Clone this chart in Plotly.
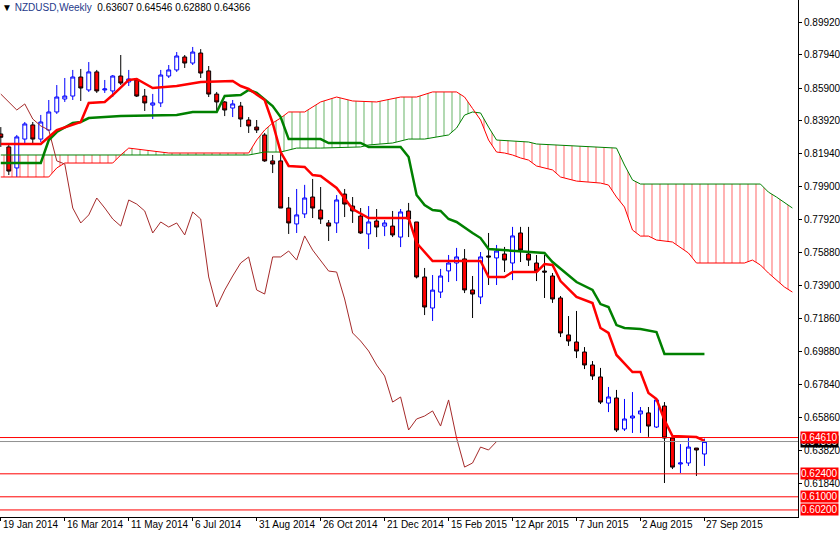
import plotly.graph_objects as go

# weekly NZDUSD candles, bar 0 = 19 Jan 2014
opens = [.8310, .8231, .8103, .8279, .8365, .8279, .8334, .8444, .8523, .8541,
         .8657, .8578, .8688, .8578, .8572, .8663, .8627, .8639, .8541, .8486,
         .8499, .8663, .8700, .8779, .8742, .8803, .8694, .8553, .8505, .8468,
         .8480, .8395, .8352, .8304, .8146, .8146, .7859, .7762, .7823, .7926,
         .7847, .7768, .7768, .7944, .7871, .7810, .7701, .7780, .7749, .7749,
         .7682, .7841, .7774, .7439, .7250, .7347, .7476, .7524, .7549, .7360,
         .7317, .7567, .7555, .7579, .7524, .7707, .7579, .7524, .7475, .7445,
         .7311, .7086, .7043, .6982, .6903, .6830, .6671, .6702, .6513, .6580,
         .6605, .6611, .6525, .6653, .6458, .6300, .6306, .6397, .63607]
highs = [.8352, .8255, .8304, .8383, .8383, .8426, .8517, .8608, .8651, .8700,
         .8706, .8748, .8700, .8639, .8669, .8791, .8700, .8651, .8584, .8554,
         .8700, .8730, .8809, .8791, .8840, .8827, .8724, .8566, .8511, .8517,
         .8505, .8413, .8395, .8316, .8182, .8195, .7926, .7975, .8000, .8036,
         .7987, .7786, .7938, .7975, .7926, .7859, .7871, .7853, .7786, .7841,
         .7853, .7890, .7774, .7494, .7451, .7488, .7573, .7616, .7609, .7445,
         .7591, .7707, .7634, .7622, .7744, .7744, .7744, .7573, .7573, .7463,
         .7323, .7201, .7232, .7012, .6927, .6885, .6769, .6751, .6696, .6738,
         .6647, .6647, .6702, .6677, .6476, .6421, .6464, .6397, .64546]
lows = [.8231, .8060, .8048, .8255, .8255, .8261, .8328, .8432, .8505, .8517,
        .8511, .8566, .8560, .8560, .8535, .8608, .8602, .8535, .8450, .8401,
        .8474, .8651, .8688, .8712, .8730, .8651, .8535, .8444, .8419, .8413,
        .8352, .8316, .8316, .8140, .8072, .7859, .7701, .7707, .7798, .7798,
        .7762, .7658, .7707, .7804, .7768, .7701, .7609, .7682, .7688, .7682,
        .7621, .7682, .7430, .7207, .7171, .7311, .7408, .7414, .7341, .7189,
        .7274, .7390, .7390, .7469, .7420, .7530, .7506, .7414, .7311, .7281,
        .7073, .7019, .6945, .6878, .6812, .6665, .6616, .6495, .6501, .6489,
        .6489, .6465, .6519, .6184, .6269, .6245, .6288, .6227, .62880]
closes = [.8290, .8084, .8292, .8371, .8279, .8383, .8444, .8535, .8541, .8657,
          .8590, .8688, .8572, .8584, .8663, .8620, .8645, .8541, .8499, .8499,
          .8669, .8700, .8785, .8742, .8809, .8681, .8553, .8505, .8456, .8493,
          .8401, .8359, .8334, .8146, .8127, .7859, .7768, .7817, .7920, .7859,
          .7792, .7749, .7908, .7883, .7841, .7707, .7774, .7743, .7768, .7695,
          .7835, .7792, .7439, .7256, .7359, .7445, .7524, .7561, .7360, .7335,
          .7561, .7561, .7597, .7542, .7689, .7603, .7542, .7475, .7469, .7305,
          .7098, .7049, .6988, .6903, .6836, .6677, .6708, .6507, .6574, .6592,
          .6623, .6531, .6690, .6458, .6281, .6306, .6403, .6385, .64366]

# Ichimoku lines (bar index, price)
tenkan_x = [0, 5, 7, 10, 11, 13, 14, 16, 17, 19, 22, 24, 25, 29, 30, 31, 33, 34, 35, 36,
            38, 39, 40, 42, 43, 44, 46, 51, 52, 54, 60, 61, 63, 64, 67, 68, 69, 70, 72, 74,
            75, 76, 77, 78, 79, 80, 81, 82, 83, 84, 87, 88]
tenkan_y = [.8249, .8249, .8334, .8383, .8499, .8505, .8547, .8639, .8645, .8590, .8602, .8620,
            .8627, .8633, .8602, .8584, .8517, .8377, .8200, .8115, .8109, .8060, .8054, .7981,
            .7920, .7853, .7798, .7798, .7646, .7536, .7536, .7439, .7439, .7469, .7469, .7518,
            .7512, .7414, .7317, .7280, .7128, .7098, .6964, .6915, .6860, .6860, .6732, .6696,
            .6568, .6470, .6464, .6440]
kijun_x = [0, 5, 6, 7, 9, 10, 11, 14, 15, 22, 24, 27, 28, 30, 31, 32, 34, 35, 36, 40, 41, 45,
           46, 50, 51, 52, 53, 54, 55, 56, 57, 59, 60, 61, 68, 69, 72, 74, 75, 76, 77, 78, 80,
           82, 83, 88]
kijun_y = [.8133, .8133, .8273, .8322, .8377, .8383, .8407, .8413, .8419, .8425, .8444, .8444,
           .8541, .8547, .8578, .8560, .8480, .8413, .8279, .8279, .8255, .8255, .8231, .8231,
           .8170, .7938, .7877, .7847, .7841, .7792, .7774, .7707, .7676, .7609, .7585, .7530,
           .7408, .7360, .7274, .7256, .7146, .7128, .7122, .7103, .6970, .6970]
span_a_x = [0, 15, 31, 33, 35, 37, 40, 45, 46, 49, 51, 53, 56, 57, 58, 59, 60, 61, 62, 66, 67,
            77, 78, 79, 80, 95, 96, 97, 99]
span_a_y = [.8182, .8182, .8182, .8200, .8200, .8224, .8224, .8231, .8243, .8255, .8279, .8279,
            .8304, .8346, .8425, .8444, .8438, .8352, .8273, .8261, .8249, .8224, .8121, .8030,
            .8005, .8005, .7956, .7926, .7859]
span_b_x = [0, 6, 7, 8, 14, 15, 16, 18, 21, 31, 32, 33, 34, 35, 36, 38, 40, 42, 44, 47, 50, 52,
            54, 57, 58, 59, 60, 61, 62, 63, 64, 65, 66, 67, 69, 70, 72, 75, 76, 77, 78, 79, 80,
            81, 82, 84, 85, 86, 87, 93, 94, 95, 96, 98, 99]
span_b_y = [.8048, .8048, .8103, .8133, .8133, .8182, .8224, .8212, .8194, .8194, .8273, .8334,
            .8377, .8407, .8444, .8444, .8505, .8535, .8511, .8505, .8535, .8535, .8566, .8566,
            .8535, .8465, .8395, .8273, .8200, .8194, .8182, .8164, .8151, .8115, .8091, .8048,
            .8023, .8011, .7999, .7926, .7865, .7725, .7688, .7688, .7664, .7652, .7621, .7585,
            .7524, .7524, .7542, .7512, .7463, .7378, .7347]

levels = [0.6461, 0.6240, 0.6100, 0.6020]
price_ticks = [0.89920, 0.87940, 0.85900, 0.83920, 0.81940, 0.79900, 0.77920, 0.75880,
               0.73900, 0.71860, 0.69880, 0.67840, 0.65860, 0.63820, 0.61840]
date_labels = ["19 Jan 2014", "16 Mar 2014", "11 May 2014", "6 Jul 2014", "31 Aug 2014",
               "26 Oct 2014", "21 Dec 2014", "15 Feb 2015", "12 Apr 2015", "7 Jun 2015",
               "2 Aug 2015", "27 Sep 2015"]

FONT = "Liberation Sans"
bars = list(range(len(closes)))
fig = go.Figure()


def segment(xs, ys, lo, hi):
    return [(x, y) for x, y in zip(xs, ys) if lo <= x <= hi]


# cloud, hatched by sign
for lo, hi, col in [(0, 15, "red"), (15, 59, "green"), (59, 99, "red")]:
    a = segment(span_a_x, span_a_y, lo, hi)
    b = segment(span_b_x, span_b_y, lo, hi)[::-1]
    pts = a + b
    fig.add_trace(go.Scatter(
        x=[p[0] for p in pts], y=[p[1] for p in pts], mode="lines", fill="toself",
        line=dict(width=0), fillcolor="rgba(0,0,0,0)",
        fillpattern=dict(shape="|", fgcolor=col, bgcolor="rgba(0,0,0,0)", size=8, solidity=0.15),
        hoverinfo="skip"))
fig.add_trace(go.Scatter(x=span_a_x, y=span_a_y, mode="lines", line=dict(color="green", width=1)))
fig.add_trace(go.Scatter(x=span_b_x, y=span_b_y, mode="lines", line=dict(color="red", width=1)))

# chikou = close shifted 26 bars back
fig.add_trace(go.Scatter(x=[i - 26 for i in bars[26:]], y=closes[26:], mode="lines",
                         line=dict(color="#a52a2a", width=1)))

for lv in levels:
    fig.add_hline(y=lv, line=dict(color="red", width=1))
fig.add_hline(y=closes[-1], line=dict(color="#909090", width=1))

fig.add_trace(go.Candlestick(
    x=bars, open=opens, high=highs, low=lows, close=closes, whiskerwidth=0,
    increasing=dict(line=dict(color="blue", width=1), fillcolor="white"),
    decreasing=dict(line=dict(color="black", width=1), fillcolor="red")))

fig.add_trace(go.Scatter(x=kijun_x, y=kijun_y, mode="lines", line=dict(color="green", width=2.5)))
fig.add_trace(go.Scatter(x=tenkan_x, y=tenkan_y, mode="lines", line=dict(color="red", width=2.5)))

# price labels on the right axis
fig.add_annotation(x=1.0, xref="paper", y=closes[-1], yref="y", text="0.64366", showarrow=False,
                   xanchor="left", xshift=2, bgcolor="black",
                   font=dict(color="white", size=10, family=FONT), borderpad=0)
for lv in levels:
    fig.add_annotation(x=1.0, xref="paper", y=lv, yref="y", text=f"{lv:.5f}", showarrow=False,
                       xanchor="left", xshift=2, bgcolor="red",
                       font=dict(color="white", size=10, family=FONT), borderpad=0)

for i, lab in enumerate(date_labels):
    fig.add_annotation(x=i * 8, xref="x", y=0, yref="paper", yanchor="top", xanchor="left",
                       text=lab, showarrow=False, font=dict(size=10, family=FONT, color="black"))

fig.add_annotation(x=0, xref="paper", y=1, yref="paper", xanchor="left", yanchor="top",
                   text="▼ <span style='color:#1e3a8a'>NZDUSD,Weekly</span>  0.63607 0.64546 0.62880 0.64366",
                   showarrow=False, font=dict(size=10, family=FONT, color="black"))

fig.update_layout(
    width=840, height=535, margin=dict(l=0, r=42, t=0, b=18),
    paper_bgcolor="white", plot_bgcolor="white", showlegend=False,
    xaxis=dict(range=[-0.1, 99.7], rangeslider=dict(visible=False), showgrid=False,
               zeroline=False, showline=True, linecolor="black", tickvals=[i * 8 for i in range(12)],
               ticktext=[""] * 12, ticks="outside", ticklen=3, tickcolor="black", automargin=False),
    yaxis=dict(range=[0.5977, 0.9126], side="right", showgrid=False, zeroline=False,
               showline=True, linecolor="black", tickvals=price_ticks,
               ticktext=[f"{t:.5f}" for t in price_ticks], ticks="outside", ticklen=3,
               tickcolor="black", tickfont=dict(size=10, family=FONT, color="black"),
               automargin=False),
)

fig.write_html("out.html", config={"displayModeBar": False},
               post_script="document.body.style.margin='0';")
